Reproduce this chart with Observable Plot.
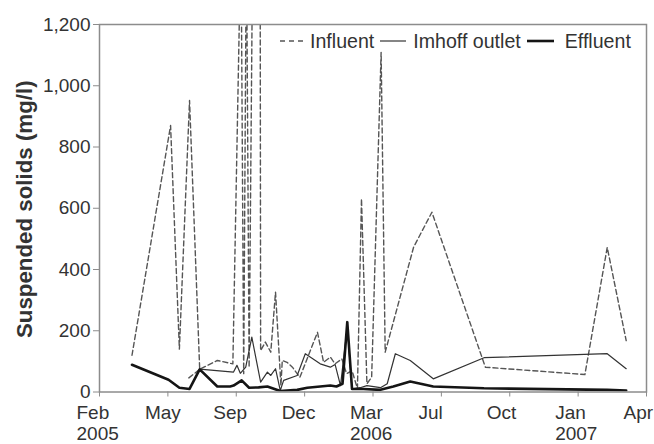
<!DOCTYPE html>
<html>
<head>
<meta charset="utf-8">
<script src="https://cdn.jsdelivr.net/npm/d3@7"></script>
<script src="https://cdn.jsdelivr.net/npm/@observablehq/plot@0.6"></script>
<style>
html,body{margin:0;padding:0;background:#fff;overflow:hidden;}
#wrap{position:relative;width:654px;height:444px;font-family:"Liberation Sans",Arial,sans-serif;color:#333;}
#legend{position:absolute;left:280px;top:30px;display:flex;align-items:center;font-size:19.6px;line-height:22px;white-space:nowrap;color:#333;}
#legend svg{display:block;}
</style>
</head>
<body>
<div id="wrap"></div>
<script>
// ---- data ----
const seriesNames = ["Influent", "Imhoff outlet", "Effluent"];
const yTitle = "Suspended solids (mg/l)";

// Influent: the first two points form a short separate segment (a gap follows)
const influentDates = ["2005-06-23","2005-07-09","2005-07-09","2005-03-31","2005-05-27","2005-06-09","2005-06-24","2005-07-09","2005-08-04","2005-08-27","2005-09-08","2005-09-12","2005-09-16","2005-09-20","2005-10-05","2005-10-07","2005-10-14","2005-10-22","2005-10-29","2005-11-06","2005-11-08","2005-11-15","2005-11-23","2005-12-04","2005-12-30","2006-01-08","2006-01-18","2006-01-25","2006-02-04","2006-02-11","2006-02-19","2006-02-27","2006-03-05","2006-03-13","2006-03-20","2006-04-03","2006-04-09","2006-05-21","2006-06-17","2006-09-04","2007-01-29","2007-03-03","2007-03-31"];
const influentValues = [46,74,null,120,870,140,952,74,103,92,1500,60,1500,80,4000,135,163,130,326,21,103,97,81,48,195,97,114,92,108,60,70,11,631,27,48,1109,130,473,587,81,57,472,168];

const imhoffDates = ["2005-07-09","2005-08-28","2005-09-02","2005-09-07","2005-09-15","2005-09-24","2005-10-07","2005-10-17","2005-10-22","2005-10-29","2005-11-05","2005-11-10","2005-11-30","2005-12-12","2006-01-03","2006-01-18","2006-01-25","2006-02-02","2006-02-12","2006-02-19","2006-03-03","2006-03-13","2006-04-02","2006-04-12","2006-04-24","2006-05-16","2006-06-19","2006-09-02","2007-03-03","2007-03-31"];
const imhoffValues = [75,65,87,61,81,179,32,65,54,76,5,38,54,125,92,81,90,21,212,10,14,21,14,27,125,103,43,112,125,76];

const effluentDates = ["2005-03-31","2005-05-24","2005-06-09","2005-06-24","2005-07-09","2005-08-04","2005-08-23","2005-08-28","2005-09-09","2005-09-20","2005-10-04","2005-10-17","2005-11-05","2005-11-30","2005-12-15","2006-01-03","2006-01-18","2006-01-27","2006-02-05","2006-02-12","2006-02-19","2006-03-08","2006-04-02","2006-04-21","2006-05-16","2006-06-19","2006-09-02","2007-03-03","2007-03-31"];
const effluentValues = [89,40,14,10,74,18,18,21,38,14,15,18,3,7,14,18,21,18,27,228,10,10,7,18,34,18,12,7,5];

const xTickDates = ["2005-02-11","2005-05-23","2005-09-01","2005-12-11","2006-03-22","2006-07-01","2006-10-10","2007-01-19","2007-04-30"];
const xTickLabels = ["Feb\n2005","May","Sep","Dec","Mar\n2006","Jul","Oct","Jan\n2007","Apr"];
const yTicks = [0,200,400,600,800,1000,1200];

// ---- build ----
const toRows = (dates, values) => dates.map((d, i) => ({date: new Date(d), value: values[i]}));
const influent = toRows(influentDates, influentValues);
const imhoff = toRows(imhoffDates, imhoffValues);
const effluent = toRows(effluentDates, effluentValues);
const xTicks = xTickDates.map(d => new Date(d));

const styles = {
  "Influent": {stroke: "#555", strokeWidth: 1.4, dash: "5,3"},
  "Imhoff outlet": {stroke: "#333", strokeWidth: 1.2, dash: null},
  "Effluent": {stroke: "#151515", strokeWidth: 2.6, dash: null}
};

const chart = Plot.plot({
  width: 654,
  height: 444,
  marginLeft: 99,
  marginRight: 8,
  marginTop: 24,
  marginBottom: 52.5,
  x: {type: "utc", domain: [xTicks[0], xTicks[xTicks.length - 1]]},
  y: {domain: [0, 1200]},
  style: {fontFamily: "'Liberation Sans', Arial, sans-serif", fontSize: "19px", color: "#333", background: "#fff", overflow: "visible"},
  marks: [
    Plot.line(influent, {x: "date", y: "value", stroke: styles["Influent"].stroke, strokeWidth: styles["Influent"].strokeWidth, strokeDasharray: styles["Influent"].dash, clip: true}),
    Plot.line(imhoff, {x: "date", y: "value", stroke: styles["Imhoff outlet"].stroke, strokeWidth: styles["Imhoff outlet"].strokeWidth, clip: true}),
    Plot.line(effluent, {x: "date", y: "value", stroke: styles["Effluent"].stroke, strokeWidth: styles["Effluent"].strokeWidth, clip: true}),
    Plot.frame({stroke: "#8c8c8c", strokeWidth: 1.5}),
    Plot.axisY({ticks: yTicks, tickSize: 6, tickPadding: 3, tickFormat: d3.format(","), label: null, stroke: "#8c8c8c", fill: "#333"}),
    Plot.axisX({ticks: xTicks, tickSize: 5, tickFormat: () => "", label: null, stroke: "#8c8c8c"}),
    Plot.text(xTicks, {x: d => d, text: (d, i) => xTickLabels[i], frameAnchor: "bottom", dy: 12, dx: -23, textAnchor: "start", lineAnchor: "top", lineHeight: 1.12, fill: "#333"}),
    Plot.text([yTitle], {text: d => d, frameAnchor: "left", dx: -75, dy: 1, rotate: -90, textAnchor: "middle", lineAnchor: "middle", fontWeight: "bold", fontSize: 22.3, fill: "#333"})
  ]
});

const wrap = document.getElementById("wrap");
wrap.appendChild(chart);

// legend overlay
const legend = document.createElement("div");
legend.id = "legend";
const sampleW = [25, 26, 27];
const gaps = [[0, 5], [6, 7], [6, 11]];
seriesNames.forEach((name, i) => {
  const s = styles[name];
  const ns = "http://www.w3.org/2000/svg";
  const svg = document.createElementNS(ns, "svg");
  svg.setAttribute("width", sampleW[i]);
  svg.setAttribute("height", 6);
  svg.style.marginLeft = gaps[i][0] + "px";
  const ln = document.createElementNS(ns, "line");
  ln.setAttribute("x1", 0); ln.setAttribute("x2", sampleW[i]);
  ln.setAttribute("y1", 3); ln.setAttribute("y2", 3);
  ln.setAttribute("stroke", s.stroke);
  ln.setAttribute("stroke-width", s.strokeWidth);
  if (s.dash) ln.setAttribute("stroke-dasharray", "5,4");
  svg.appendChild(ln);
  legend.appendChild(svg);
  const sp = document.createElement("span");
  sp.textContent = name;
  sp.style.marginLeft = gaps[i][1] + "px";
  legend.appendChild(sp);
});
wrap.appendChild(legend);
</script>
</body>
</html>
